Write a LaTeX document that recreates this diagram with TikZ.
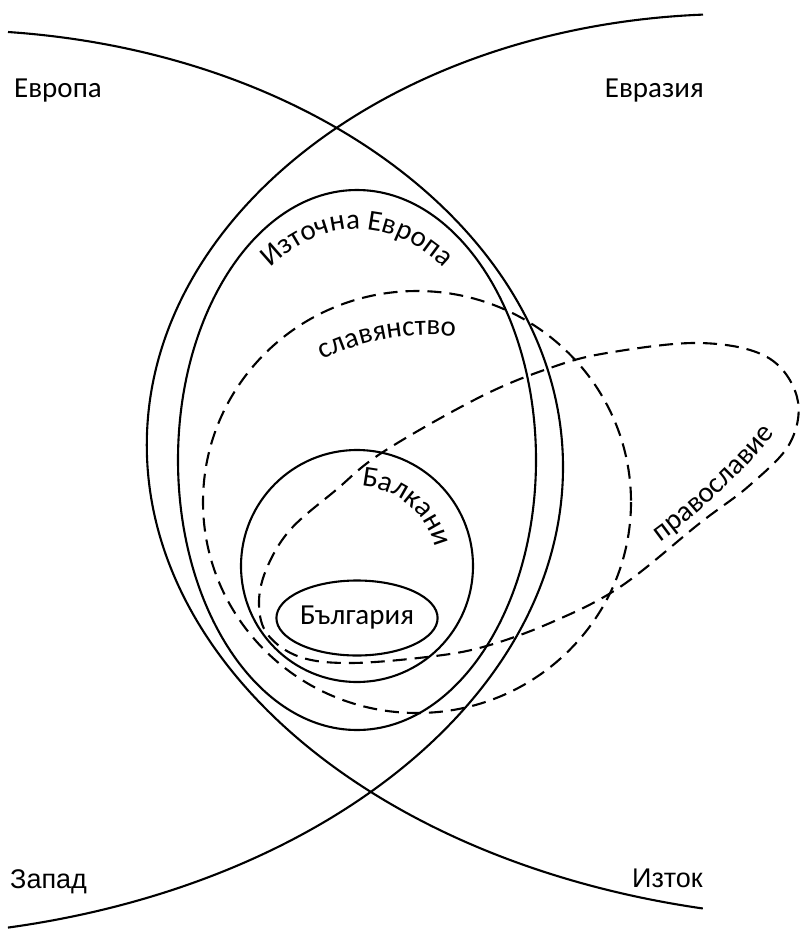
\documentclass[tikz,border=0pt]{standalone}
\usepackage{fontspec}
\setmainfont{Carlito}
\newfontfamily\arialfont{Liberation Sans}
\usepackage{tikz}
\usetikzlibrary{shapes.geometric,decorations.text}
\newcommand{\lblfont}{\fontsize{29}{35}\selectfont}
\tikzset{
 ring/.style
  = {draw, line width=2.1pt},
 dring/.style
  = {draw, line width=2.1pt, dash pattern=on 14pt off 8pt},
 lab/.style
  = {inner sep=0pt, font=\lblfont},
 side/.style
  = {inner sep=0pt, font=\arialfont\fontsize{27}{32}\selectfont},
 arctext/.style
  = {decorate, decoration={text along path, text align=center, text={|\lblfont|#1}}},
}

\begin{document}
\begin{tikzpicture}[x=1pt,y=-1pt]
\useasboundingbox (0,0) rectangle (800,929);

% Centres
\coordinate (iz) at (357,460);
\coordinate (sl) at (417,502);
\coordinate (bk) at (357,566);

% Europe (left arc of the lens)
\draw[ring] (8,32) arc[start angle=275.43, end angle=360, x radius=613, y radius=437]
  arc[start angle=0, end angle=78.52, x radius=693, y radius=470];

% Eurasia (right arc of the lens)
\draw[ring] (703,14.6) arc[start angle=266.9, end angle=180, x radius=588, y radius=431]
  arc[start angle=180, end angle=102.07, x radius=703, y radius=474];

% Eastern Europe
\draw[ring] (iz) ellipse[x radius=179, y radius=270];
\path[arctext={Източна Европа}] (iz) ++(215:156 and 231)
  arc[start angle=215, end angle=325, x radius=156, y radius=231];

% Slavdom
\draw[dring] (sl) ellipse[x radius=214, y radius=211];
\path[arctext={славянство}] (430,581) ++(-130:246)
  arc[start angle=-130, end angle=-70, radius=246];

% Orthodoxy
\draw[dring] plot[smooth cycle, tension=0.6] coordinates {(700,343) (767,357) (797,397)
  (790,443) (750,485) (700,523) (620,587) (550,623) (483,647) (427,657) (350,663)
  (300,657) (268,635) (259,605) (266,570) (290,530) (336,490) (383,452) (480,397)
  (550,368) (607,353)};
\path[arctext={православие}] (646,552) .. controls (700,515) and (746,471) .. (786,420);

% Balkans
\draw[ring] (bk) circle[radius=116];
\path[arctext={Балкани}] (bk) ++(-110:80) arc[start angle=-110, end angle=10, radius=80];

% Bulgaria
\node[ellipse, draw, line width=2.1pt, inner sep=0pt, minimum width=155pt,
  minimum height=75pt, font=\lblfont] (bg) at (357,618) {България};

% Corner labels
\node[lab, anchor=base west] (eu) at (14,97) {Европа};
\node[lab, anchor=base east] (ea) at (704,97) {Евразия};
\node[side, anchor=base west] (we) at (10,888) {Запад};
\node[side, anchor=base east] (ee) at (703,887) {Изток};

\end{tikzpicture}
\end{document}
